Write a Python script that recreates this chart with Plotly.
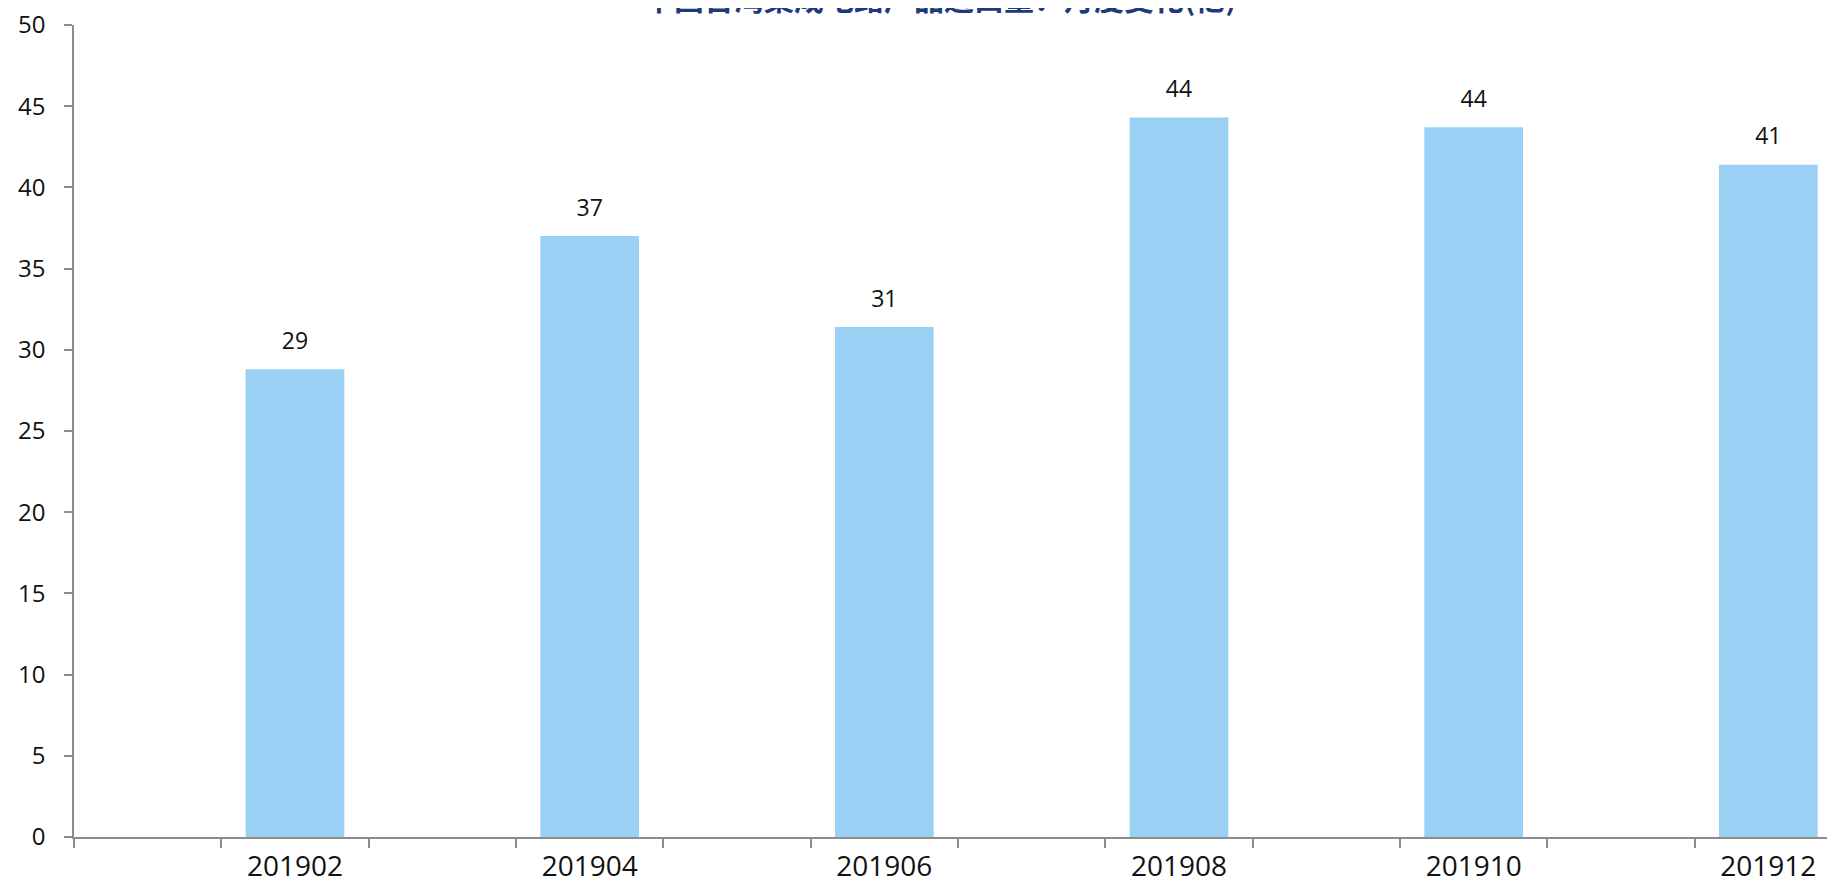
import plotly.graph_objects as go

months = ["201901", "201902", "201903", "201904", "201905", "201906",
          "201907", "201908", "201909", "201910", "201911", "201912"]
values = [None, 28.8, None, 37.0, None, 31.4, None, 44.3, None, 43.7, None, 41.4]
data_labels = ["", "29", "", "37", "", "31", "", "44", "", "44", "", "41"]
tick_text = ["", "201902", "", "201904", "", "201906", "", "201908", "", "201910", "", "201912"]
y_ticks = [0, 5, 10, 15, 20, 25, 30, 35, 40, 45, 50]
title_text = "中国台湾集成电路产品进口量：月度变化(亿)"

fig = go.Figure()
fig.add_trace(go.Bar(
    x=months, y=values,
    marker=dict(color="#9BD0F5", line=dict(width=0)),
    width=0.67, cliponaxis=False, hoverinfo="skip",
))
fig.add_trace(go.Scatter(
    x=months, y=values, text=data_labels, mode="markers+text",
    textposition="top center",
    marker=dict(size=22, opacity=0),
    textfont=dict(size=23, color="#111111", family="Open Sans"),
    cliponaxis=False, hoverinfo="skip",
))

fig.add_annotation(xref="paper", yref="paper", x=0.49, y=1.0,
                   text="<b>" + title_text + "</b>", showarrow=False,
                   xanchor="center", yanchor="middle", yshift=28,
                   font=dict(size=30, color="#1F3A7A", family="Noto Sans CJK SC"))

fig.update_layout(
    width=1835, height=891,
    paper_bgcolor="white", plot_bgcolor="white",
    margin=dict(l=66, r=1, t=17, b=62, autoexpand=False),
    showlegend=False,
    font=dict(family="Open Sans", color="#111111"),
)
fig.update_xaxes(
    type="category", categoryorder="array", categoryarray=months,
    range=[-0.5, len(months) - 0.5],
    tickmode="array", tickvals=months, ticktext=tick_text,
    tickson="boundaries", ticks="outside", ticklen=9, tickcolor="#8C8C8C", tickwidth=1.5,
    showline=True, linecolor="#8C8C8C", linewidth=1.5,
    showgrid=False, zeroline=False,
    tickfont=dict(size=28, family="Open Sans", color="#111111"),
    ticklabelstandoff=4,
)
fig.update_yaxes(
    range=[0, 50], tickmode="array", tickvals=y_ticks,
    ticks="outside", ticklen=8, tickcolor="#8C8C8C", tickwidth=1.5,
    showline=True, linecolor="#8C8C8C", linewidth=1.5,
    showgrid=False, zeroline=False,
    tickfont=dict(size=24, family="Open Sans", color="#111111"),
    ticklabelstandoff=14, ticklabeloverflow="allow",
)

fig.write_html("out.html")
